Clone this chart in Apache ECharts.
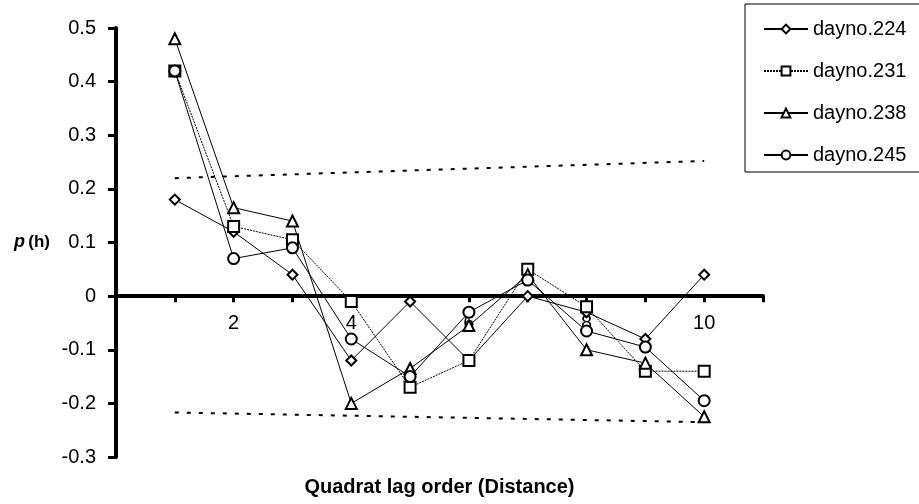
<!DOCTYPE html>
<html>
<head>
<meta charset="utf-8">
<script src="https://cdn.jsdelivr.net/npm/echarts@6/dist/echarts.min.js"></script>
<style>
  html, body { margin: 0; padding: 0; background: #fff; }
  #chart { width: 919px; height: 504px; }
</style>
</head>
<body>
<div id="chart"></div>
<script>
// Quadrat lag order (distance) 1..10
var lags = [1, 2, 3, 4, 5, 6, 7, 8, 9, 10];

// Autocorrelation p(h) per sampling day
var dayno224 = [0.18, 0.12, 0.04, -0.12, -0.01, -0.12, 0.00, -0.03, -0.08, 0.04];
var dayno231 = [0.42, 0.13, 0.105, -0.01, -0.17, -0.12, 0.05, -0.02, -0.14, -0.14];
var dayno238 = [0.48, 0.165, 0.14, -0.20, -0.135, -0.055, 0.04, -0.10, -0.125, -0.225];
var dayno245 = [0.42, 0.07, 0.09, -0.08, -0.15, -0.03, 0.03, -0.065, -0.095, -0.195];

// Confidence limits (start and end lag, value)
var bandLags = [1, 10];
var upperBand = [0.22, 0.252];
var lowerBand = [-0.217, -0.235];

var xTickLabels = [2, 4, 6, 8, 10];

function pairs(xs, ys) {
  return xs.map(function (x, i) { return [x, ys[i]]; });
}

var FONT = '"Liberation Sans", Arial, sans-serif';

// Plot frame (pixels) and value range of the y axis
var GRID = { left: 116, right: 156, top: 28, bottom: 47 };
var Y_MIN = -0.3, Y_MAX = 0.5;
var plotHeight = 504 - GRID.top - GRID.bottom;
// the lag axis crosses the p(h) axis at zero
var zeroOffset = -plotHeight * (0 - Y_MIN) / (Y_MAX - Y_MIN);

function daySeries(name, values, symbol, size, lineType) {
  return {
    name: name,
    type: 'line',
    data: pairs(lags, values),
    symbol: symbol,
    symbolSize: size,
    showAllSymbol: true,
    lineStyle: { color: '#000', width: 1, type: lineType },
    itemStyle: { color: '#fff', borderColor: '#000', borderWidth: 2 },
    emphasis: { disabled: true },
    animation: false
  };
}

function bandSeries(values) {
  return {
    type: 'line',
    data: pairs(bandLags, values),
    symbol: 'none',
    lineStyle: { color: '#000', width: 2, type: [4, 8] },
    emphasis: { disabled: true },
    animation: false,
    silent: true
  };
}

var chart = echarts.init(document.getElementById('chart'), null, { renderer: 'canvas' });

chart.setOption({
  backgroundColor: '#fff',
  animation: false,
  grid: {
    left: GRID.left, right: GRID.right, top: GRID.top, bottom: GRID.bottom,
    containLabel: false, outerBoundsMode: 'none'
  },
  legend: {
    orient: 'vertical',
    left: 745,
    top: 4,
    padding: [15, 40, 7, 18],
    itemGap: 22,
    itemWidth: 44,
    itemHeight: 11,
    borderColor: '#000',
    borderWidth: 1,
    backgroundColor: '#fff',
    textStyle: { color: '#000', fontSize: 20, fontFamily: FONT },
    data: ['dayno.224', 'dayno.231', 'dayno.238', 'dayno.245']
  },
  xAxis: {
    type: 'value',
    min: 0,
    max: 11,
    interval: 1,
    offset: zeroOffset,
    name: 'Quadrat lag order (Distance)',
    nameLocation: 'middle',
    nameGap: 181,
    nameTextStyle: { color: '#000', fontSize: 20, fontWeight: 'bold', fontFamily: FONT },
    splitLine: { show: false },
    axisLine: { onZero: false, lineStyle: { color: '#000', width: 4 } },
    axisTick: { show: true, length: 6, lineStyle: { color: '#000', width: 3 } },
    axisLabel: {
      color: '#000',
      fontSize: 20,
      fontFamily: FONT,
      margin: 17,
      formatter: function (v) {
        return xTickLabels.indexOf(v) >= 0 ? String(v) : '';
      }
    }
  },
  yAxis: {
    type: 'value',
    min: Y_MIN,
    max: Y_MAX,
    interval: 0.1,
    name: '{p|p} {h|(h)}',
    nameLocation: 'middle',
    nameRotate: 0,
    nameGap: 66,
    nameTextStyle: {
      rich: {
        p: { fontSize: 18, fontWeight: 'bold', fontStyle: 'italic', fontFamily: FONT, color: '#000' },
        h: { fontSize: 17, fontWeight: 'bold', fontFamily: FONT, color: '#000' }
      }
    },
    splitLine: { show: false },
    axisLine: { show: true, onZero: false, lineStyle: { color: '#000', width: 4 } },
    axisTick: { show: true, length: 8, lineStyle: { color: '#000', width: 3 } },
    axisLabel: {
      color: '#000',
      fontSize: 20,
      fontFamily: FONT,
      margin: 20,
      formatter: function (v) { return String(Math.round(v * 10) / 10); }
    }
  },
  series: [
    bandSeries(upperBand),
    bandSeries(lowerBand),
    daySeries('dayno.224', dayno224, 'diamond', 10, 'solid'),
    daySeries('dayno.231', dayno231, 'rect', 11, [2, 1]),
    daySeries('dayno.238', dayno238, 'triangle', 11, 'solid'),
    daySeries('dayno.245', dayno245, 'circle', 11, 'solid')
  ]
});
</script>
</body>
</html>
